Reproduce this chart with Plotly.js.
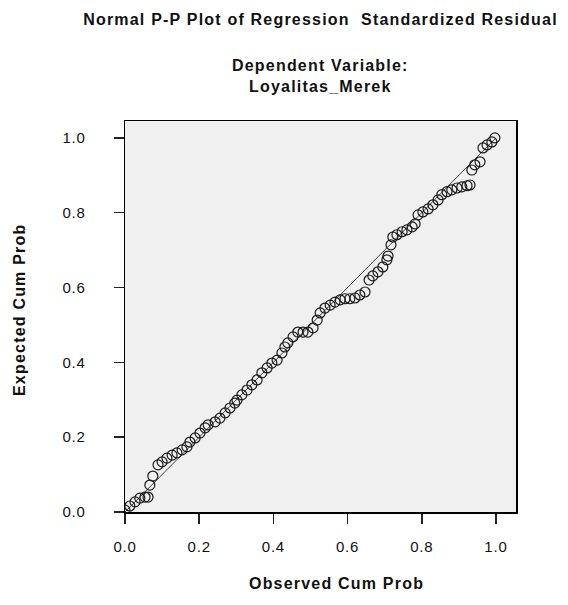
<!DOCTYPE html>
<html>
<head>
<meta charset="utf-8">
<script src="https://cdn.plot.ly/plotly-3.0.1.min.js"></script>
<style>
  html, body { margin: 0; padding: 0; background: #ffffff; }
  #chart { width: 568px; height: 605px; }
  .gtitle, .annotation-text { letter-spacing: 1.2px; }
  .xtick text, .ytick text { letter-spacing: 0.8px; }
</style>
</head>
<body>
<div id="chart"></div>
<script>
// Observed cumulative probability (x) and expected cumulative probability (y)
const observedCumProb = [
  0.000, 0.013, 0.027, 0.040, 0.054, 0.062, 0.067, 0.075, 0.089, 0.100,
  0.113, 0.127, 0.140, 0.154, 0.167, 0.175, 0.189, 0.202, 0.216, 0.224,
  0.243, 0.256, 0.270, 0.283, 0.296, 0.302, 0.315, 0.329, 0.342, 0.356,
  0.369, 0.383, 0.396, 0.410, 0.423, 0.431, 0.439, 0.453, 0.466, 0.480,
  0.493, 0.507, 0.518, 0.526, 0.539, 0.553, 0.566, 0.580, 0.593, 0.606,
  0.620, 0.633, 0.647, 0.658, 0.668, 0.682, 0.695, 0.706, 0.709, 0.717,
  0.722, 0.733, 0.747, 0.760, 0.774, 0.782, 0.790, 0.803, 0.817, 0.830,
  0.844, 0.854, 0.868, 0.881, 0.895, 0.908, 0.922, 0.930, 0.935, 0.943,
  0.957, 0.965, 0.976, 0.989, 0.997
];
const expectedCumProb = [
  0.005, 0.016, 0.027, 0.037, 0.040, 0.040, 0.072, 0.096, 0.126, 0.134,
  0.144, 0.152, 0.158, 0.166, 0.174, 0.187, 0.198, 0.211, 0.225, 0.233,
  0.241, 0.251, 0.265, 0.278, 0.291, 0.299, 0.313, 0.326, 0.340, 0.353,
  0.372, 0.385, 0.398, 0.406, 0.425, 0.441, 0.452, 0.468, 0.481, 0.481,
  0.481, 0.492, 0.513, 0.532, 0.545, 0.553, 0.561, 0.567, 0.570, 0.570,
  0.572, 0.580, 0.588, 0.620, 0.631, 0.642, 0.655, 0.674, 0.684, 0.714,
  0.735, 0.741, 0.749, 0.754, 0.762, 0.770, 0.794, 0.802, 0.810, 0.821,
  0.834, 0.848, 0.856, 0.861, 0.866, 0.869, 0.872, 0.874, 0.914, 0.928,
  0.936, 0.973, 0.981, 0.989, 1.000
];
// Reference diagonal
const refLineX = [0, 1];
const refLineY = [0, 1];
const tickValues = [0, 0.2, 0.4, 0.6, 0.8, 1.0];
const tickLabels = ["0.0", "0.2", "0.4", "0.6", "0.8", "1.0"];

const FONT = "Liberation Sans, Arial, sans-serif";
const PAD = "\u00a0\u00a0\u00a0\u00a0\u00a0";

const traces = [
  {
    x: refLineX, y: refLineY, type: "scatter", mode: "lines",
    line: { color: "#404040", width: 1 },
    hoverinfo: "skip", showlegend: false
  },
  {
    x: observedCumProb, y: expectedCumProb, type: "scatter", mode: "markers",
    marker: { symbol: "circle-open", size: 10, color: "#1a1a1a", line: { width: 1.2, color: "#1a1a1a" } },
    showlegend: false
  }
];

const layout = {
  width: 568, height: 605,
  paper_bgcolor: "#ffffff",
  plot_bgcolor: "#f0f0f0",
  margin: { l: 125, r: 52, t: 121, b: 93, pad: 0 },
  showlegend: false,
  font: { family: FONT, color: "#111111", size: 15 },
  title: {
    text: "Normal P-P Plot of Regression  Standardized Residual",
    font: { family: FONT, size: 16, weight: "bold", color: "#111111" },
    x: 0.5, xref: "paper", xanchor: "center",
    y: 1 - 19 / 605, yref: "container", yanchor: "middle"
  },
  xaxis: {
    range: [0, 1.054], showgrid: false, zeroline: false,
    showline: true, mirror: true, linecolor: "#000000", linewidth: 1.5,
    ticks: "outside", ticklen: 10, tickwidth: 1.5, tickcolor: "#222222",
    tickvals: tickValues, ticktext: tickLabels,
    tickfont: { family: FONT, size: 15, color: "#111111" },
    ticklabelstandoff: 10
  },
  yaxis: {
    range: [0, 1.045], showgrid: false, zeroline: false,
    showline: true, mirror: true, linecolor: "#000000", linewidth: 1.5,
    ticks: "outside", ticklen: 10, tickwidth: 1.5, tickcolor: "#222222",
    tickvals: tickValues, ticktext: tickLabels.map(t => t + PAD),
    tickfont: { family: FONT, size: 15, color: "#111111" }
  },
  annotations: [
    {
      text: "Dependent Variable:<br>Loyalitas_Merek",
      xref: "paper", yref: "paper",
      x: 0.5, y: (512 - 76) / 391, xanchor: "center", yanchor: "middle",
      showarrow: false,
      font: { family: FONT, size: 16, weight: "bold", color: "#111111" }
    },
    {
      text: "Observed Cum Prob",
      xref: "paper", yref: "paper",
      x: (336 - 125) / 391, y: (512 - 583) / 391, xanchor: "center", yanchor: "middle",
      showarrow: false,
      font: { family: FONT, size: 16, weight: "bold", color: "#111111" }
    },
    {
      text: "Expected Cum Prob",
      xref: "paper", yref: "paper", textangle: -90,
      x: (19 - 125) / 391, y: (512 - 310) / 391, xanchor: "center", yanchor: "middle",
      showarrow: false,
      font: { family: FONT, size: 16, weight: "bold", color: "#111111" }
    }
  ]
};

Plotly.newPlot("chart", traces, layout, { displayModeBar: false, staticPlot: true });
</script>
</body>
</html>
